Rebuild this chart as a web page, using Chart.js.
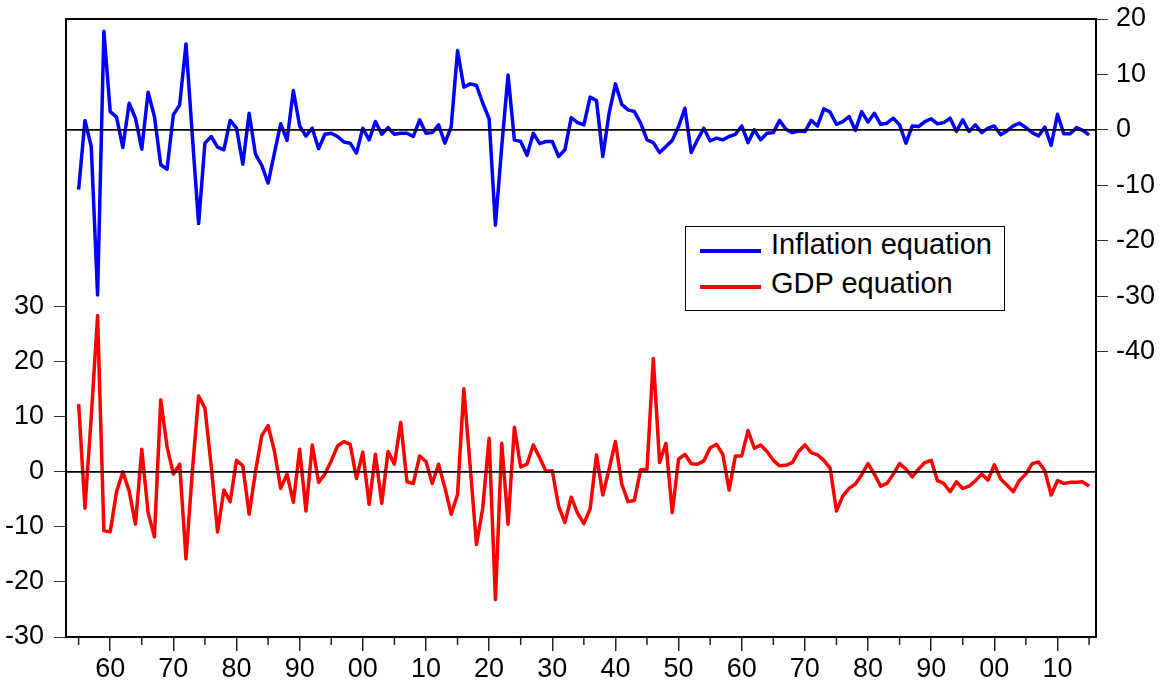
<!DOCTYPE html>
<html>
<head>
<meta charset="utf-8">
<title>Inflation and GDP equation residuals</title>
<script src="https://cdn.jsdelivr.net/npm/chart.js@4.4.1/dist/chart.umd.min.js"></script>
<style>
  html, body { margin: 0; padding: 0; background: #fff; }
  #wrap { position: relative; width: 1160px; height: 684px; }
  #legend {
    position: absolute; left: 685px; top: 226px; width: 318px; height: 83px;
    border: 1.5px solid #000; background: #fff;
    font-family: "Liberation Sans", Arial, sans-serif; font-size: 29px; color: #000;
  }
  #legend .swatch { position: absolute; left: 14px; width: 61px; height: 4px; }
  #legend .label { position: absolute; left: 85px; line-height: 29px; white-space: nowrap; }
</style>
</head>
<body>
<div id="wrap">
  <canvas id="residChart" width="1160" height="684"></canvas>
  <div id="legend">
    <div class="swatch" style="top:22px;background:#0000ff"></div>
    <div class="label" style="top:3px">Inflation equation</div>
    <div class="swatch" style="top:58px;background:#ff0000"></div>
    <div class="label" style="top:42px">GDP equation</div>
  </div>
</div>
<script>
// annual observations 1855-2015
var years = [];
for (var yr = 1855; yr <= 2015; yr++) years.push(yr);

// Inflation equation residuals (right axis)
var inflation = [
  -10.8, 1.7, -3.0, -29.8, 17.8, 3.3, 2.3, -3.2, 4.8, 2.1,
  -3.5, 6.8, 2.4, -6.3, -7.1, 2.7, 4.5, 15.5, -1.0, -16.9,
  -2.4, -1.2, -3.1, -3.6, 1.7, 0.3, -6.2, 3.0, -4.4, -6.4,
  -9.6, -4.2, 1.1, -1.9, 7.1, 0.7, -1.1, 0.3, -3.4, -0.8,
  -0.6, -1.2, -2.2, -2.4, -4.2, 0.3, -1.8, 1.5, -0.8, 0.4,
  -0.8, -0.6, -0.6, -1.2, 1.8, -0.6, -0.5, 0.9, -2.4, 0.6,
  14.3, 7.7, 8.3, 8.0, 4.8, 2.0, -17.2, -3.0, 9.9, -1.8,
  -2.1, -4.6, -0.6, -2.5, -2.1, -2.1, -4.8, -3.6, 2.2, 1.3,
  0.9, 5.9, 5.3, -4.8, 3.0, 8.3, 4.6, 3.6, 3.3, 1.2,
  -1.8, -2.3, -4.1, -3.0, -1.9, 0.6, 3.9, -4.1, -1.8, 0.3,
  -2.0, -1.5, -1.8, -1.2, -0.8, 0.7, -2.3, 0.0, -1.8, -0.6,
  -0.5, 1.7, 0.1, -0.5, -0.2, -0.3, 1.7, 0.7, 3.8, 3.2,
  1.0, 1.5, 2.4, -0.1, 3.3, 1.4, 3.0, 1.0, 1.2, 2.1,
  0.9, -2.4, 0.7, 0.6, 1.5, 2.0, 1.1, 1.3, 2.1, -0.3,
  1.8, -0.3, 0.9, -0.5, 0.3, 0.7, -0.9, -0.2, 0.7, 1.2,
  0.4, -0.5, -1.1, 0.5, -2.8, 2.8, -0.7, -0.7, 0.4, -0.1,
  -0.9
];

// GDP equation residuals (left axis)
var gdp = [
  12.3, -6.6, 10.0, 28.4, -10.7, -10.9, -3.6, 0.0, -3.5, -9.5,
  4.1, -7.4, -11.8, 13.1, 4.6, -0.4, 1.4, -15.8, 0.0, 13.8,
  11.6, 1.0, -10.9, -3.3, -5.4, 2.1, 1.1, -7.7, 0.0, 6.6,
  8.4, 3.8, -3.0, -0.4, -5.5, 4.1, -7.1, 4.9, -1.9, -0.4,
  2.0, 4.7, 5.5, 5.0, -1.2, 3.6, -5.9, 3.2, -5.7, 3.7,
  1.4, 9.0, -1.8, -2.1, 2.9, 1.9, -2.1, 1.4, -2.9, -7.7,
  -4.1, 15.1, 1.0, -13.2, -6.5, 6.1, -23.2, 5.2, -9.5, 8.1,
  0.9, 1.4, 4.9, 2.6, 0.1, 0.2, -6.2, -9.2, -4.6, -7.5,
  -9.4, -6.7, 3.1, -4.2, 0.5, 5.5, -2.2, -5.4, -5.2, 0.4,
  0.5, 20.6, 1.7, 5.2, -7.4, 2.3, 3.2, 1.5, 1.4, 2.0,
  4.4, 5.0, 3.2, -3.3, 2.9, 2.9, 7.5, 4.3, 4.9, 3.7,
  2.1, 1.1, 1.2, 1.7, 3.7, 4.9, 3.5, 3.1, 2.1, 0.7,
  -7.1, -4.4, -3.0, -2.2, -0.5, 1.5, -0.4, -2.6, -2.1, -0.4,
  1.5, 0.5, -0.9, 0.5, 1.7, 2.1, -1.6, -2.1, -3.6, -1.8,
  -3.0, -2.6, -1.6, -0.4, -1.5, 1.3, -1.3, -2.4, -3.6, -1.5,
  -0.4, 1.5, 1.8, 0.2, -4.2, -1.6, -2.1, -1.9, -1.9, -1.8,
  -2.6
];

// tick positions
var xTicks = [1855, 1860, 1865, 1870, 1875, 1880, 1885, 1890, 1895, 1900,
  1905, 1910, 1915, 1920, 1925, 1930, 1935, 1940, 1945, 1950, 1955, 1960,
  1965, 1970, 1975, 1980, 1985, 1990, 1995, 2000, 2005, 2010, 2015];
var leftTicks = [-30, -20, -10, 0, 10, 20, 30];
var rightTicks = [-40, -30, -20, -10, 0, 10, 20];

function toPoints(values) {
  return values.map(function (v, i) { return { x: years[i], y: v }; });
}

// fixed axis sizes so the plot box lands where the original has it
function fixWidth(w) {
  return function (scale) {
    scale.width = w;
    scale.paddingTop = 0;
    scale.paddingBottom = 0;
  };
}

// frame box, zero lines and the short 5-year ticks
var framePlugin = {
  id: 'frame',
  afterDatasetsDraw: function (chart) {
    var ctx = chart.ctx, a = chart.chartArea, s = chart.scales;
    ctx.save();
    ctx.strokeStyle = '#000';
    ctx.lineWidth = 1.6;
    [s.y.getPixelForValue(0), s.y1.getPixelForValue(0)].forEach(function (py) {
      ctx.beginPath();
      ctx.moveTo(a.left, py);
      ctx.lineTo(a.right, py);
      ctx.stroke();
    });
    ctx.strokeStyle = '#222';
    ctx.lineWidth = 1.5;
    xTicks.forEach(function (v) {
      if (v % 10 === 0) return;
      var px = s.x.getPixelForValue(v);
      ctx.beginPath();
      ctx.moveTo(px, a.bottom);
      ctx.lineTo(px, a.bottom + 8);
      ctx.stroke();
    });
    ctx.strokeStyle = '#000';
    ctx.lineWidth = 2;
    ctx.strokeRect(a.left, a.top, a.right - a.left, a.bottom - a.top);
    ctx.restore();
  }
};

Chart.defaults.font.family = '"Liberation Sans", Arial, sans-serif';
Chart.defaults.color = '#000';

new Chart(document.getElementById('residChart'), {
  type: 'line',
  data: {
    datasets: [{
      label: 'Inflation equation',
      data: toPoints(inflation),
      yAxisID: 'y1',
      borderColor: '#0000ff',
      borderWidth: 3.5,
      pointRadius: 0,
      borderJoinStyle: 'round',
      tension: 0
    }, {
      label: 'GDP equation',
      data: toPoints(gdp),
      yAxisID: 'y',
      borderColor: '#ff0000',
      borderWidth: 3.5,
      pointRadius: 0,
      borderJoinStyle: 'round',
      tension: 0
    }]
  },
  options: {
    responsive: false,
    animation: false,
    events: [],
    layout: { padding: { top: 19, left: 0, right: 0, bottom: 0 } },
    plugins: { legend: { display: false }, tooltip: { enabled: false } },
    scales: {
      x: {
        type: 'linear',
        min: 1853,
        max: 2016.1,
        afterBuildTicks: function (axis) {
          axis.ticks = xTicks.map(function (v) { return { value: v }; });
        },
        afterFit: function (scale) {
          scale.height = 47;
          scale.paddingLeft = 0;
          scale.paddingRight = 0;
        },
        border: { display: false },
        grid: {
          drawOnChartArea: false,
          tickLength: 14,
          lineWidth: 1.5,
          tickColor: function (c) {
            return c.tick && c.tick.value % 10 === 0 ? '#222' : 'rgba(0,0,0,0)';
          }
        },
        ticks: {
          autoSkip: false,
          maxRotation: 0,
          padding: 2,
          font: { size: 27 },
          callback: function (v) {
            return v % 10 === 0 ? String(v % 100).padStart(2, '0') : '';
          }
        }
      },
      y: {
        position: 'left',
        min: -30,
        max: 82.3,
        afterBuildTicks: function (axis) {
          axis.ticks = leftTicks.map(function (v) { return { value: v }; });
        },
        afterFit: fixWidth(66),
        border: { display: false },
        grid: { drawOnChartArea: false, tickLength: 12, tickColor: '#333', lineWidth: 1 },
        ticks: { padding: 10, font: { size: 27 } }
      },
      y1: {
        position: 'right',
        min: -91.5,
        max: 20,
        afterBuildTicks: function (axis) {
          axis.ticks = rightTicks.map(function (v) { return { value: v }; });
        },
        afterFit: fixWidth(64),
        border: { display: false },
        grid: { drawOnChartArea: false, tickLength: 12, tickColor: '#333', lineWidth: 1 },
        ticks: { padding: 8, font: { size: 27 } }
      }
    }
  },
  plugins: [framePlugin]
});
</script>
</body>
</html>
